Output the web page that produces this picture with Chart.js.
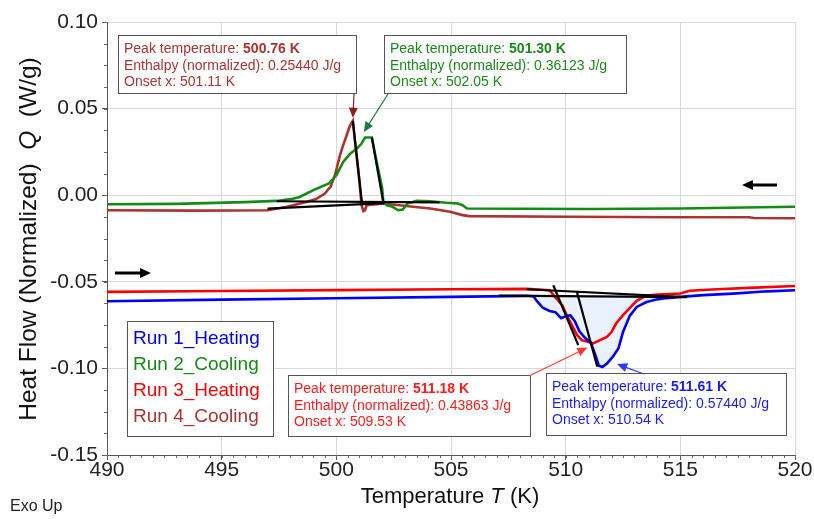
<!DOCTYPE html>
<html>
<head>
<meta charset="utf-8">
<script src="https://cdn.jsdelivr.net/npm/chart.js@4.4.1/dist/chart.umd.min.js"></script>
<style>
  html, body { margin: 0; padding: 0; background: #fff; }
  #wrap { width: 814px; height: 519px; position: relative; }
</style>
</head>
<body>
<div id="wrap"><canvas id="grafico"></canvas></div>
<script>
const FONT = '"Liberation Sans", Arial, sans-serif';

// ---- data ----
const run1T = [490, 495, 500, 505, 508.3, 508.6, 508.75, 509.0, 509.3, 509.55, 509.8, 509.97, 510.2, 510.4, 510.6, 510.85, 511.1, 511.3, 511.45, 511.6, 511.8, 512.05, 512.3, 512.5, 512.8, 513.1, 513.5, 513.9, 514.4, 515.0, 516.0, 517.3, 518.8, 520];
const run1Q = [-0.0612, -0.0603, -0.0595, -0.0587, -0.0581, -0.0585, -0.0612, -0.0650, -0.0668, -0.0675, -0.0710, -0.0700, -0.0693, -0.0728, -0.0786, -0.0825, -0.0852, -0.0925, -0.0985, -0.0992, -0.0972, -0.0934, -0.0885, -0.0790, -0.0695, -0.0645, -0.0618, -0.0604, -0.0594, -0.0587, -0.0577, -0.0568, -0.0555, -0.0549];

const run2T = [490, 493, 496, 497.4, 498.1, 498.4, 499.0, 499.7, 500.0, 500.3, 500.6, 500.9, 501.1, 501.25, 501.55, 501.7, 501.85, 502.0, 502.05, 502.2, 502.45, 502.7, 502.9, 503.1, 503.5, 504.1, 504.8, 505.3, 505.5, 505.7, 508, 511, 515, 518.5, 520];
const run2Q = [-0.0052, -0.0050, -0.0040, -0.0033, -0.0020, -0.0010, 0.0029, 0.0070, 0.0115, 0.0192, 0.0240, 0.0270, 0.0298, 0.0333, 0.0333, 0.0231, 0.0135, 0.0039, -0.0039, -0.0058, -0.0067, -0.0087, -0.0083, -0.0048, -0.0033, -0.0035, -0.0044, -0.0048, -0.0058, -0.0077, -0.0078, -0.0080, -0.0077, -0.0070, -0.0067];

const run3T = [490, 495, 500, 505, 508.3, 509.3, 509.6, 509.85, 510.05, 510.27, 510.5, 510.7, 511.0, 511.2, 511.5, 511.8, 512.0, 512.2, 512.5, 512.8, 513.1, 513.5, 514.0, 515.0, 515.4, 516.6, 518.0, 520];
const run3Q = [-0.0558, -0.0553, -0.0548, -0.0543, -0.0541, -0.0549, -0.0597, -0.0635, -0.0693, -0.0750, -0.0808, -0.0837, -0.0847, -0.0856, -0.0837, -0.0818, -0.0790, -0.0741, -0.0693, -0.0650, -0.0610, -0.0580, -0.0574, -0.0568, -0.0552, -0.0543, -0.0535, -0.0524];

const run4T = [490, 494, 497.0, 497.85, 498.7, 499.15, 499.5, 499.75, 499.95, 500.16, 500.3, 500.45, 500.6, 500.72, 500.85, 501.0, 501.1, 501.18, 501.25, 501.32, 502.05, 503.35, 504.1, 504.96, 505.5, 505.8, 510, 515, 518, 518.2, 520];
const run4Q = [-0.0087, -0.0089, -0.0087, -0.0067, -0.0039, -0.0020, 0.0010, 0.0050, 0.0120, 0.0231, 0.0289, 0.0346, 0.0404, 0.0429, 0.0266, 0.0089, -0.0058, -0.0092, -0.0087, -0.0058, -0.0048, -0.0067, -0.0077, -0.0096, -0.0115, -0.0121, -0.0124, -0.0127, -0.0127, -0.0132, -0.0133];

// black construction lines (baselines and peak tangents): [T1, Q1, T2, Q2]
const constructionLines = [
  [497.4, -0.0035, 504.5, -0.0042],
  [497.0, -0.0077, 502.1, -0.0046],
  [500.72, 0.0429, 501.12, -0.0048],
  [501.55, 0.0333, 502.05, -0.0044],
  [508.3, -0.0543, 515.0, -0.0587],
  [507.1, -0.0580, 515.3, -0.0588],
  [509.46, -0.0520, 510.55, -0.0866],
  [510.48, -0.0554, 511.38, -0.0990],
];

// shaded peak area of run 1 (between curve and its baseline)
const shadeFrom = 508.55;
const shadeTo = 515.0;
const shadeBase = -0.0584;

const seriesNames = ["Run 1_Heating", "Run 2_Cooling", "Run 3_Heating", "Run 4_Cooling"];
const seriesColors = ["#0000ff", "#148c14", "#ff0000", "#ad3232"];
const textColors = ["#1a1aff", "#1a8a1a", "#ff1a1a", "#ad3232"];
const arrowColors = ["#2a3cff", "#1c7a3c", "#ff3a3a", "#8e1a1a"];

const peakLabels = ["511.61 K", "501.30 K", "511.18 K", "500.76 K"];
const enthalpyLabels = ["0.57440 J/g", "0.36123 J/g", "0.43863 J/g", "0.25440 J/g"];
const onsetLabels = ["510.54 K", "502.05 K", "509.53 K", "501.11 K"];

const xTicks = [490, 495, 500, 505, 510, 515, 520];
const yTicks = [-0.15, -0.10, -0.05, 0.00, 0.05, 0.10];

// ---- helpers ----
const toPts = (xs, ys) => xs.map((x, i) => ({ x, y: ys[i] }));
const runs = [[run1T, run1Q], [run2T, run2Q], [run3T, run3Q], [run4T, run4Q]];

const datasets = [];
constructionLines.forEach((l) => {
  datasets.push({
    data: [{ x: l[0], y: l[1] }, { x: l[2], y: l[3] }],
    showLine: true, borderColor: "#000", borderWidth: 2.2, pointRadius: 0,
  });
});
runs.forEach((r, i) => {
  datasets.push({
    label: seriesNames[i],
    data: toPts(r[0], r[1]),
    showLine: true, borderColor: seriesColors[i], borderWidth: 2.6, pointRadius: 0,
  });
});
// shading dataset built from run 1 values inside the peak
const shadePts = toPts(run1T, run1Q).filter((p) => p.x >= shadeFrom && p.x <= shadeTo);
datasets.push({
  data: shadePts, showLine: true, borderWidth: 0, borderColor: "rgba(0,0,0,0)",
  pointRadius: 0, fill: { value: shadeBase }, backgroundColor: "#e9f2fc",
});

// boxes for the peak annotations (pixels) and where their arrows go
const annoBoxes = [
  { x: 546, y: 373, w: 240, h: 62 },
  { x: 384, y: 35, w: 242, h: 58 },
  { x: 288, y: 375, w: 242, h: 61 },
  { x: 118, y: 35, w: 238, h: 58 },
];
const annoArrows = [
  { from: [644, 374], to: [512.24, -0.0975] },
  { from: [388, 94], to: [501.2, 0.0365] },
  { from: [529, 376], to: [510.95, -0.0880] },
  { from: [354, 94], to: [500.72, 0.0447] },
];

function arrow(ctx, x1, y1, x2, y2, color, lw, head) {
  const a = Math.atan2(y2 - y1, x2 - x1);
  ctx.save();
  ctx.strokeStyle = color; ctx.fillStyle = color; ctx.lineWidth = lw;
  ctx.beginPath();
  ctx.moveTo(x1, y1);
  ctx.lineTo(x2 - Math.cos(a) * head * 0.8, y2 - Math.sin(a) * head * 0.8);
  ctx.stroke();
  ctx.beginPath();
  ctx.moveTo(x2, y2);
  ctx.lineTo(x2 - head * Math.cos(a - 0.42), y2 - head * Math.sin(a - 0.42));
  ctx.lineTo(x2 - head * Math.cos(a + 0.42), y2 - head * Math.sin(a + 0.42));
  ctx.closePath();
  ctx.fill();
  ctx.restore();
}

function drawParts(ctx, parts, x, y) {
  let cx = x;
  parts.forEach((p) => {
    ctx.font = p.font;
    ctx.fillText(p.t, cx, y);
    cx += ctx.measureText(p.t).width;
  });
}

function partsWidth(ctx, parts) {
  return parts.reduce((s, p) => { ctx.font = p.font; return s + ctx.measureText(p.t).width; }, 0);
}

const decoPlugin = {
  id: "deco",
  beforeDatasetsDraw(chart) {
    // minor ticks
    const { ctx, scales: { x, y } } = chart;
    ctx.save();
    ctx.strokeStyle = "#666"; ctx.lineWidth = 1;
    ctx.beginPath();
    for (let t = 490; t <= 520.001; t += 0.5) {
      const px = Math.round(x.getPixelForValue(t)) + 0.5;
      ctx.moveTo(px, y.bottom); ctx.lineTo(px, y.bottom + 3);
    }
    for (let v = -0.15; v <= 0.1001; v += 0.0125) {
      const py = Math.round(y.getPixelForValue(v)) + 0.5;
      ctx.moveTo(x.left, py); ctx.lineTo(x.left - 3, py);
    }
    ctx.stroke();
    ctx.restore();
  },
  afterDraw(chart) {
    const { ctx, scales: { x, y } } = chart;
    ctx.save();
    ctx.textBaseline = "alphabetic";

    // annotation boxes
    annoBoxes.forEach((b, i) => {
      ctx.fillStyle = "#fff";
      ctx.fillRect(b.x, b.y, b.w, b.h);
      ctx.strokeStyle = "#555"; ctx.lineWidth = 1;
      ctx.strokeRect(b.x + 0.5, b.y + 0.5, b.w, b.h);
      ctx.fillStyle = textColors[i];
      const tx = b.x + 6, ty = b.y + 18;
      drawParts(ctx, [
        { t: "Peak temperature: ", font: "14px " + FONT },
        { t: peakLabels[i], font: "bold 14px " + FONT },
      ], tx, ty);
      ctx.font = "14px " + FONT;
      ctx.fillText("Enthalpy (normalized): " + enthalpyLabels[i], tx, ty + 16.5);
      ctx.fillText("Onset x: " + onsetLabels[i], tx, ty + 33);
      const a = annoArrows[i];
      arrow(ctx, a.from[0], a.from[1], x.getPixelForValue(a.to[0]), y.getPixelForValue(a.to[1]), arrowColors[i], 1.2, 11);
    });

    // legend box
    ctx.fillStyle = "#fff";
    ctx.fillRect(127, 321, 146, 115);
    ctx.strokeStyle = "#555"; ctx.lineWidth = 1;
    ctx.strokeRect(127.5, 321.5, 146, 115);
    ctx.font = "19px " + FONT;
    seriesNames.forEach((n, i) => {
      ctx.fillStyle = seriesColors[i];
      ctx.fillText(n, 133, 344 + i * 26);
    });

    // direction arrows
    arrow(ctx, 777, 185, 742, 185, "#000", 3, 12);
    arrow(ctx, 115, 273, 151, 273, "#000", 3, 12);

    // axis titles with italic symbols
    ctx.fillStyle = "#111";
    ctx.textBaseline = "middle";
    const xParts = [
      { t: "Temperature ", font: "22px " + FONT },
      { t: "T", font: "italic 22px " + FONT },
      { t: " (K)", font: "22px " + FONT },
    ];
    drawParts(ctx, xParts, 450 - partsWidth(ctx, xParts) / 2, 497);
    const yParts = [
      { t: "Heat Flow (Normalized)  ", font: "24.5px " + FONT },
      { t: "Q", font: "italic 24.5px " + FONT },
      { t: "  (W/g)", font: "24.5px " + FONT },
    ];
    ctx.save();
    ctx.translate(29, 239);
    ctx.rotate(-Math.PI / 2);
    drawParts(ctx, yParts, -partsWidth(ctx, yParts) / 2, 0);
    ctx.restore();

    ctx.font = "16px " + FONT;
    ctx.fillStyle = "#222";
    ctx.fillText("Exo Up", 10, 507);
    ctx.restore();
  },
};

new Chart(document.getElementById("grafico"), {
  type: "scatter",
  data: { datasets },
  options: {
    responsive: true,
    maintainAspectRatio: false,
    animation: false,
    layout: { padding: { top: 22, right: 19, left: 0, bottom: 0 } },
    plugins: { legend: { display: false }, tooltip: { enabled: false } },
    scales: {
      x: {
        type: "linear", min: 490, max: 520,
        afterBuildTicks: (s) => { s.ticks = xTicks.map((v) => ({ value: v })); },
        afterFit: (s) => { s.height = 64; },
        grid: { color: "#d9d9d9", tickColor: "#555", tickLength: 5 },
        border: { color: "#555" },
        ticks: { color: "#222", font: { family: FONT, size: 21 }, padding: -2, maxRotation: 0, callback: (v) => String(v) },
      },
      y: {
        type: "linear", min: -0.15, max: 0.10,
        afterBuildTicks: (s) => { s.ticks = yTicks.map((v) => ({ value: v })); },
        afterFit: (s) => { s.width = 107; },
        grid: { color: "#d9d9d9", tickColor: "#555", tickLength: 5 },
        border: { color: "#555" },
        ticks: { color: "#222", font: { family: FONT, size: 21 }, padding: 4, callback: (v) => v.toFixed(2) },
      },
    },
  },
  plugins: [decoPlugin],
});
</script>
</body>
</html>
